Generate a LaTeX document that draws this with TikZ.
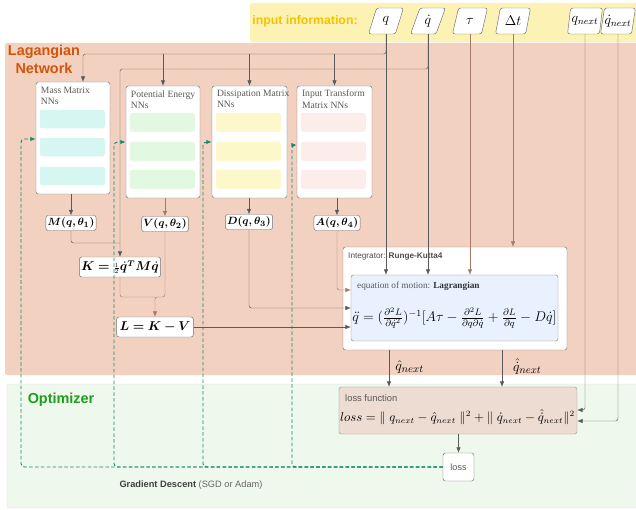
\documentclass[tikz,border=0pt]{standalone}
\usepackage{amsmath}
\usepackage{bm}
\usepackage{fontspec}
\setmainfont{Liberation Serif}
\setsansfont{Liberation Sans}
\usepackage{tikz}
\usetikzlibrary{arrows.meta,positioning,calc,shapes.geometric}
\definecolor{netbg}{HTML}{F2D1C1}
\definecolor{nettxt}{HTML}{D2550A}
\definecolor{inbg}{HTML}{FCF2B4}
\definecolor{intxt}{HTML}{F5C200}
\definecolor{optbg}{HTML}{EEF8EC}
\definecolor{opttxt}{HTML}{1E9E1E}
\definecolor{gradcol}{HTML}{138A6C}
\definecolor{boxgray}{HTML}{707070}
\definecolor{linegray}{HTML}{5A5A5A}
\definecolor{linebrown}{HTML}{A57A68}
\definecolor{barmass}{HTML}{D5F6F1}
\definecolor{barpot}{HTML}{E3F8E0}
\definecolor{bardiss}{HTML}{FCF8CB}
\definecolor{barinp}{HTML}{FDEDEA}
\definecolor{eqbg}{HTML}{E8F1FD}
\definecolor{lossbg}{HTML}{EDDCD2}
\tikzset{
  innode/.style={trapezium,trapezium left angle=72,trapezium right angle=108,trapezium stretches=true,
    draw=boxgray,fill=white,rounded corners=2pt,minimum width=1.05cm,minimum height=0.78cm,inner sep=0pt,
    font=\fontsize{12}{14}\selectfont},
  nnbox/.style={draw=boxgray,fill=white,rounded corners=2pt,minimum width=2.22cm,minimum height=3.36cm,inner sep=0pt},
  nntitle/.style={anchor=north west,align=left,inner sep=0pt,text=black!65,font=\fontsize{8.2}{9.6}\selectfont},
  outnode/.style={draw=boxgray,fill=white,rounded corners=2pt,inner sep=1.5pt,minimum height=0.45cm,
    font=\fontsize{9.5}{11}\selectfont},
  arcdata/.style={->,linegray,rounded corners=2pt},
  arcmisc/.style={->,linebrown,rounded corners=2pt},
  arcgrad/.style={->,gradcol,thick,dashed,dash pattern=on 3pt off 2pt,rounded corners=3pt},
  bandlab/.style={font=\sffamily\bfseries\fontsize{12.3}{15.5}\selectfont,align=center,inner sep=0pt}
}

\begin{document}
\begin{tikzpicture}[x=0.03cm,y=-0.03cm,>={Latex[length=1.6mm,width=1.3mm]}]
  \useasboundingbox (0,0) rectangle (636,510);
  % bands
  \fill[inbg,rounded corners=2pt] (250,3) rectangle (640,42);
  \fill[netbg,rounded corners=2pt] (5,43) rectangle (640,375);
  \filldraw[fill=optbg,draw=black!12,rounded corners=2pt] (7,384) rectangle (640,508);
  \node[bandlab,text=nettxt] (nettitle) at (44,59) {Lagangian\\Network};
  \node[bandlab,text=opttxt] (opttitle) at (61,400) {Optimizer};
  \node[font=\sffamily\bfseries\fontsize{10.5}{12}\selectfont,text=intxt,inner sep=0pt] (intitle) at (305,21) {input information:};

  % inputs
  \node[innode] (q) at (386,21) {$q$};
  \node[innode] (qd) at (428,21) {$\dot q$};
  \node[innode] (tau) at (470,21) {$\tau$};
  \node[innode] (dt) at (513,21) {$\Delta t$};
  \node[innode] (qn) at (585,21) {$q_{next}$};
  \node[innode] (qdn) at (618,21) {$\dot q_{next}$};

  % networks
  \node[nnbox] (mass) at (73,138) {};
  \node[nnbox] (pot) at (163,142) {};
  \node[nnbox,minimum width=2.25cm] (diss) at (249.5,142) {};
  \node[nnbox,minimum width=2.25cm] (inp) at (334.5,142) {};
  \node[nntitle] (masst) at ([shift={(5,5)}]mass.north west) {Mass Matrix\\NNs};
  \node[nntitle] (pott) at ([shift={(5,5)}]pot.north west) {Potential Energy\\NNs};
  \node[nntitle] (disst) at ([shift={(5,4)}]diss.north west) {Dissipation Matrix\\NNs};
  \node[nntitle] (inpt) at ([shift={(5,4)}]inp.north west) {Input Transform\\Matrix NNs};
  \foreach \dy in {28,56,85}
    \fill[barmass,rounded corners=2pt] ([shift={(4,\dy)}]mass.north west) rectangle ++(65,18.5);
  \foreach \b/\c in {pot/barpot,diss/bardiss,inp/barinp}
    \foreach \dy in {27,56,84}
      \fill[\c,rounded corners=2pt] ([shift={(4,\dy)}]\b.north west) rectangle ++(65,19);

  % outputs of the networks
  \node[outnode] (M) at (71,223) {$\bm{M(q,\theta_1)}$};
  \node[outnode] (V) at (165,224) {$\bm{V(q,\theta_2)}$};
  \node[outnode] (D) at (249,222) {$\bm{D(q,\theta_3)}$};
  \node[outnode] (A) at (337,223) {$\bm{A(q,\theta_4)}$};
  \node[outnode,minimum width=2.28cm,minimum height=0.6cm,font=\fontsize{10.5}{12}\selectfont] (K) at (120,267)
    {$\bm{K=}{\scriptstyle\frac{1}{2}}\bm{\dot q^T M\dot q}$};
  \node[outnode,minimum width=2.3cm,minimum height=0.6cm,font=\fontsize{10.5}{12}\selectfont] (L) at (155,327) {$\bm{L=K-V}$};

  % integrator
  \node[draw=boxgray,fill=white,rounded corners=2pt,minimum width=6.72cm,minimum height=3.09cm] (integ) at (455,298.5) {};
  \node[anchor=west,inner sep=0pt,text=black!70,font=\sffamily\fontsize{7}{8}\selectfont] (integt) at (348,257) {Integrator: \textbf{Runge-Kutta4}};
  \node[draw=black!40!eqbg!70!boxgray,fill=eqbg,rounded corners=2pt,minimum width=6.21cm,minimum height=1.98cm] (eq) at (454.5,308) {};
  \node[anchor=west,inner sep=0pt,text=black!65,font=\fontsize{7.9}{9}\selectfont] (eqt) at (357,286) {equation of motion: \textbf{\color{black!80}Lagrangian}};
  \node[inner sep=0pt,font=\fontsize{11.5}{13}\selectfont] (eqf) at (454.5,318)
    {$\ddot q=(\frac{\partial^2L}{\partial\dot q^2})^{-1}[A\tau-\frac{\partial^2L}{\partial q\partial\dot q}+\frac{\partial L}{\partial q}-D\dot q]$};

  % loss
  \node[draw=black!40,fill=lossbg,rounded corners=2pt,minimum width=7.14cm,minimum height=1.41cm] (lossf) at (458,410.5) {};
  \node[anchor=west,inner sep=0pt,text=black!65,font=\sffamily\fontsize{8}{9}\selectfont] (lossft) at (345,398) {loss function};
  \node[inner sep=0pt,font=\fontsize{10.5}{12}\selectfont] (lossfm) at (457.5,417)
    {$loss=\|\;q_{next}-\hat q_{next}\;\|^2+\|\;\dot q_{next}-\hat{\dot q}_{next}\|^2$};
  \node[draw=boxgray,fill=white,rounded corners=2pt,minimum width=0.93cm,minimum height=0.84cm,text=black!65,
    font=\sffamily\fontsize{7.7}{9}\selectfont] (loss) at (458.5,467) {loss};
  \node[font=\sffamily\fontsize{7.9}{9}\selectfont,text=black!60] (gdtxt) at (191,485)
    {\textbf{\color{black!75}Gradient Descent} (SGD or Adam)};

  % data flow
  \draw[arcdata] (q.south) -- (q.south |- eq.north);
  \draw[arcdata] (q.south) |- (83,54) -- (83,0 |- mass.north);
  \foreach \b in {pot,diss,inp}
    \draw[arcdata] (\b.north |- 0,54) -- (\b.north);
  \draw[arcdata] (qd.south) -- (qd.south |- eq.north);
  \draw[arcdata] (qd.south) |- (K.north |- 0,69) -- (K.north);
  \draw[arcmisc] (tau.south) -- (tau.south |- eq.north);
  \draw[arcmisc] (dt.south) -- (dt.south |- integ.north);
  \draw[arcdata] (mass.south -| M.north) -- (M.north);
  \draw[arcmisc] (pot.south -| V.north) -- (V.north);
  \draw[arcdata] (diss.south -| D.north) -- (D.north);
  \draw[arcdata] (inp.south -| A.north) -- (A.north);
  \draw[arcdata,-] (M.south) |- (K.north |- 0,243);
  \draw[arcmisc,-] (K.south) |- (L.north |- 0,297);
  \draw[arcmisc] (V.south) |- (L.north |- 0,297) -- (L.north);
  \draw[arcmisc] (A.south) |- (eq.west |- 0,290);
  \draw[arcdata] (D.south) |- (eq.west |- 0,308);
  \draw[arcdata] (L.east) -- (eq.west |- L.east);
  \draw[arcdata] (integ.south -| 389,0) -- (389,0 |- lossf.north)
    node[pos=0.45,right=2pt,font=\fontsize{13}{14}\selectfont,text=black] (qhat) {$\hat q_{next}$};
  \draw[arcdata] (integ.south -| 502,0) -- (502,0 |- lossf.north)
    node[pos=0.45,right=6pt,font=\fontsize{13}{14}\selectfont,text=black] (qdhat) {$\hat{\dot q}_{next}$};
  \draw[arcdata] (qn.south) |- (lossf.east |- 0,410);
  \draw[arcdata] (qdn.south) |- (lossf.east |- 0,421);
  \draw[arcdata] (lossf.south -| loss.north) -- (loss.north);

  % gradient feedback
  \draw[arcgrad] (loss.west) -| (21,139) -- (mass.west |- 0,139);
  \draw[arcgrad] (loss.west) -| (114,142) -- (pot.west |- 0,142);
  \draw[arcgrad] (loss.west) -| (203,142) -- (diss.west |- 0,142);
  \draw[arcgrad] (loss.west) -| (292,145) -- (inp.west |- 0,145);
\end{tikzpicture}
\end{document}
